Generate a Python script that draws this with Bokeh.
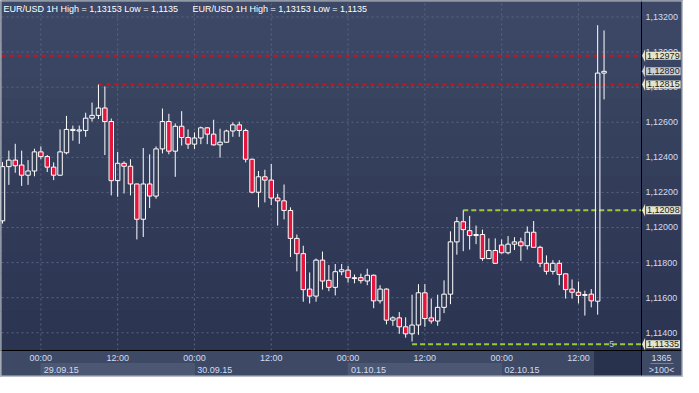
from bokeh.plotting import figure
from bokeh.models import (Range1d, FixedTicker, CustomJSTickFormatter, BoxAnnotation,
                          Label, PolyAnnotation, ColumnDataSource, Span)
from bokeh.embed import file_html
from bokeh.resources import INLINE

# ---------------- data ----------------
# hour offsets from 29.09.15 00:00 (EUR/USD, 1H candles)
hours = list(range(-6, 89))
opens = [1.12038, 1.12347, 1.12384, 1.12356, 1.12298, 1.12322, 1.12431, 1.12404, 1.12344, 1.12298,
         1.12426, 1.12553, 1.12550, 1.12553, 1.12623, 1.12639, 1.12681, 1.12604, 1.12267, 1.12366,
         1.12349, 1.12248, 1.12047, 1.12248, 1.12179, 1.12448, 1.12604, 1.12435, 1.12577, 1.12513,
         1.12475, 1.12510, 1.12568, 1.12532, 1.12471, 1.12486, 1.12550, 1.12585, 1.12553, 1.12389,
         1.12201, 1.12289, 1.12270, 1.12168, 1.12152, 1.12097, 1.11938, 1.11851, 1.11649, 1.11609,
         1.11814, 1.11699, 1.11659, 1.11748, 1.11757, 1.11709, 1.11714, 1.11695, 1.11728, 1.11582,
         1.11649, 1.11472, 1.11485, 1.11434, 1.11394, 1.11444, 1.11628, 1.11485, 1.11467, 1.11545,
         1.11620, 1.11918, 1.12033, 1.11982, 1.11954, 1.11960, 1.11823, 1.11869, 1.11900, 1.11856,
         1.11905, 1.11918, 1.11896, 1.11973, 1.11887, 1.11796, 1.11750, 1.11796, 1.11736, 1.11649,
         1.11631, 1.11613, 1.11620, 1.11580, 1.12880]
highs = [1.12373, 1.12438, 1.12477, 1.12438, 1.12384, 1.12449, 1.12462, 1.12413, 1.12371, 1.12559,
         1.12636, 1.12581, 1.12581, 1.12654, 1.12712, 1.12815, 1.12804, 1.12621, 1.12431, 1.12377,
         1.12389, 1.12250, 1.12453, 1.12417, 1.12462, 1.12678, 1.12648, 1.12593, 1.12663, 1.12559,
         1.12542, 1.12575, 1.12572, 1.12614, 1.12563, 1.12557, 1.12599, 1.12603, 1.12563, 1.12392,
         1.12322, 1.12329, 1.12362, 1.12192, 1.12245, 1.12115, 1.11960, 1.11896, 1.11744, 1.11823,
         1.11863, 1.11786, 1.11792, 1.11792, 1.11781, 1.11732, 1.11737, 1.11765, 1.11732, 1.11671,
         1.11653, 1.11494, 1.11518, 1.11488, 1.11617, 1.11677, 1.11677, 1.11595, 1.11617, 1.11699,
         1.11978, 1.12060, 1.12098, 1.12066, 1.12011, 1.11988, 1.11938, 1.11938, 1.11932, 1.11951,
         1.11945, 1.11942, 1.12006, 1.12037, 1.11896, 1.11841, 1.11814, 1.11814, 1.11738, 1.11704,
         1.11692, 1.11640, 1.11649, 1.13153, 1.13123]
lows = [1.12022, 1.12243, 1.12312, 1.12237, 1.12243, 1.12292, 1.12389, 1.12316, 1.12270, 1.12295,
        1.12417, 1.12495, 1.12477, 1.12517, 1.12604, 1.12618, 1.12413, 1.12183, 1.12175, 1.12194,
        1.12183, 1.11932, 1.11946, 1.12111, 1.12164, 1.12422, 1.12417, 1.12289, 1.12467, 1.12448,
        1.12448, 1.12475, 1.12475, 1.12467, 1.12398, 1.12484, 1.12517, 1.12517, 1.12371, 1.12194,
        1.12115, 1.12143, 1.12128, 1.12011, 1.12046, 1.11832, 1.11750, 1.11577, 1.11567, 1.11577,
        1.11646, 1.11637, 1.11613, 1.11728, 1.11686, 1.11682, 1.11681, 1.11671, 1.11540, 1.11567,
        1.11448, 1.11440, 1.11394, 1.11372, 1.11350, 1.11388, 1.11434, 1.11452, 1.11440, 1.11512,
        1.11563, 1.11845, 1.11865, 1.11874, 1.11905, 1.11810, 1.11820, 1.11793, 1.11851, 1.11847,
        1.11872, 1.11810, 1.11874, 1.11883, 1.11774, 1.11732, 1.11732, 1.11671, 1.11595, 1.11595,
        1.11567, 1.11498, 1.11545, 1.11503, 1.12730]
closes = [1.12347, 1.12384, 1.12352, 1.12298, 1.12322, 1.12431, 1.12404, 1.12344, 1.12298, 1.12431,
          1.12559, 1.12559, 1.12556, 1.12623, 1.12639, 1.12681, 1.12604, 1.12267, 1.12366, 1.12349,
          1.12248, 1.12047, 1.12248, 1.12179, 1.12448, 1.12604, 1.12435, 1.12577, 1.12513, 1.12475,
          1.12510, 1.12568, 1.12532, 1.12471, 1.12486, 1.12550, 1.12585, 1.12553, 1.12389, 1.12201,
          1.12289, 1.12270, 1.12168, 1.12152, 1.12097, 1.11938, 1.11851, 1.11646, 1.11609, 1.11814,
          1.11695, 1.11659, 1.11748, 1.11759, 1.11714, 1.11714, 1.11697, 1.11728, 1.11582, 1.11649,
          1.11472, 1.11485, 1.11434, 1.11394, 1.11444, 1.11628, 1.11481, 1.11467, 1.11545, 1.11620,
          1.11918, 1.12033, 1.11988, 1.11954, 1.11960, 1.11823, 1.11869, 1.11796, 1.11856, 1.11905,
          1.11918, 1.11896, 1.11973, 1.11887, 1.11796, 1.11750, 1.11796, 1.11732, 1.11646, 1.11631,
          1.11613, 1.11618, 1.11582, 1.12880, 1.12890]

tick_hours = [0, 12, 24, 36, 48, 60, 72, 84]
tick_labels = ["00:00", "12:00", "00:00", "12:00", "00:00", "12:00", "00:00", "12:00"]
day_starts = [0, 24, 48, 72]
date_labels = ["29.09.15", "30.09.15", "01.10.15", "02.10.15"]
date_banded = [True, False, True, False]
price_ticks = [1.114, 1.116, 1.118, 1.120, 1.122, 1.124, 1.126, 1.128, 1.130, 1.132]

level_values = [1.12979, 1.12815, 1.12098, 1.11335]
level_start_hours = [-6.15, 9, 66, 58]
level_kinds = ["red", "red", "green", "green"]
last_price = 1.12890
level_count_label = "5"

header = "EUR/USD 1H High = 1,13153 Low = 1,1135"
bars_total = "1365"
bars_shown = ">100<"

# ---------------- layout (canvas = frame) ----------------
W, H = 683, 377
PX0, PX1 = -6.15, 93.85          # visible hours in the price area (100 bars)
PY0, PY1 = 1.11299, 1.13288      # visible prices in the price area
plot_w, plot_h = 640, 349         # px of the price area
left_b, right_panel, right_b = 1, 40, 2
top_b, bottom_bar, bottom_b = 1, 25, 2
kx = (PX1 - PX0) / plot_w
ky = (PY1 - PY0) / plot_h
XR = Range1d(PX0 - left_b * kx, PX1 + (right_panel + right_b) * kx)
YR = Range1d(PY0 - (bottom_bar + bottom_b) * ky, PY1 + top_b * ky)
sep_x_px = left_b + plot_w               # screen x of price-area right edge
sep_y_px = bottom_b + bottom_bar          # screen y (from bottom) of price-area bottom

FONT = "Liberation Sans"
FS = "9px"
TXT = "#d2dcf2"

p = figure(width=W, height=H, x_range=XR, y_range=YR, output_backend="svg",
           toolbar_location=None, y_axis_location="right",
           min_border=0, min_border_left=0, min_border_right=0,
           min_border_top=0, min_border_bottom=0)
p.background_fill_color = "#3e4a65"
p.border_fill_color = "#3e4a65"
p.outline_line_color = None
p.xgrid.visible = False
p.ygrid.visible = False

# vertical gradient in price area + price panel
top_rgb = (61, 73, 102)
bot_rgb = (42, 51, 80)
nb = 18
for i in range(nb):
    t = (i + 0.5) / nb
    c = tuple(int(round(a + (b - a) * t)) for a, b in zip(top_rgb, bot_rgb))
    yt = PY1 + top_b * ky if i == 0 else PY1 - (PY1 - PY0) * i / nb + 0.00002
    yb = PY1 - (PY1 - PY0) * (i + 1) / nb - 0.00002
    if i == nb - 1:
        yb = PY0
    p.add_layout(BoxAnnotation(top=yt, bottom=yb, fill_color="#%02x%02x%02x" % c,
                               fill_alpha=1, line_color=None, level="image"))

# bottom bar: date bands and dark tail region
for d, banded in zip(day_starts, date_banded):
    if banded:
        p.add_layout(BoxAnnotation(left=d, right=d + 24, top=bottom_b + 12, bottom=bottom_b,
                                   top_units="screen", bottom_units="screen",
                                   fill_color="#4c5873", fill_alpha=1,
                                   line_color="#606c86", line_width=1, level="underlay"))
p.add_layout(BoxAnnotation(left=86.44, right=PX1, top=sep_y_px, bottom=bottom_b,
                           top_units="screen", bottom_units="screen",
                           fill_color="#29324d", fill_alpha=1, line_color=None, level="underlay"))

# grid lines (price area only)
p.segment(x0=tick_hours, y0=PY0, x1=tick_hours, y1=PY1, line_color="#5a6682",
          line_width=1, line_dash="2 3")
p.segment(x0=PX0, y0=price_ticks, x1=PX1, y1=price_ticks, line_color="#5a6682",
          line_width=1, line_dash="2 3")

# axes drawn at fixed locations inside the canvas
p.xaxis.ticker = FixedTicker(ticks=tick_hours)
p.xaxis.major_label_overrides = {h: lab for h, lab in zip(tick_hours, tick_labels)}
p.xaxis.fixed_location = PY0
p.yaxis.ticker = FixedTicker(ticks=price_ticks)
p.yaxis.formatter = CustomJSTickFormatter(code="return tick.toFixed(5).replace('.', ',');")
p.yaxis.fixed_location = PX1
for ax in (p.xaxis, p.yaxis):
    ax.axis_line_color = None
    ax.major_tick_line_color = None
    ax.minor_tick_line_color = None
    ax.major_tick_out = 0
    ax.major_tick_in = 0
    ax.minor_tick_out = 0
    ax.minor_tick_in = 0
    ax.major_label_text_color = TXT
    ax.major_label_text_font = FONT
    ax.major_label_text_font_size = FS
p.xaxis.major_label_standoff = 2
p.yaxis.major_label_standoff = 4

# date labels (second row of the time bar)
for d, lab in zip(day_starts, date_labels):
    p.add_layout(Label(x=d + 0.45, y=bottom_b + 6, y_units="screen", text=lab, text_color=TXT,
                       text_font=FONT, text_font_size=FS, text_baseline="middle"))

# horizontal levels
red_i = [i for i, k in enumerate(level_kinds) if k == "red"]
grn_i = [i for i, k in enumerate(level_kinds) if k == "green"]
p.segment(x0=[level_start_hours[i] for i in red_i], y0=[level_values[i] for i in red_i],
          x1=PX1, y1=[level_values[i] for i in red_i], line_color="#d0121c", line_width=2,
          line_dash="4 4")
p.segment(x0=[level_start_hours[i] for i in grn_i], y0=[level_values[i] for i in grn_i],
          x1=PX1, y1=[level_values[i] for i in grn_i], line_color="#9ec83a", line_width=2,
          line_dash="5 3")
p.add_layout(Label(x=89.2, y=level_values[3], text=level_count_label, text_color="#a9bddd",
                   text_font=FONT, text_font_size=FS, text_align="center",
                   text_baseline="middle"))

# candles
up = [c >= o for o, c in zip(opens, closes)]
src = ColumnDataSource(dict(
    x=hours,
    top=[max(o, c) for o, c in zip(opens, closes)],
    bot=[min(o, c) for o, c in zip(opens, closes)],
    high=highs, low=lows,
    fill=["#000000" if u else "#e3173d" for u in up],
    alpha=[0.0 if u else 1.0 for u in up],
))
p.segment(x0="x", y0="high", x1="x", y1="top", source=src, line_color="white", line_width=1)
p.segment(x0="x", y0="bot", x1="x", y1="low", source=src, line_color="white", line_width=1)
p.vbar(x="x", top="top", bottom="bot", width=0.7, source=src, fill_color="fill",
       fill_alpha="alpha", line_color="white", line_width=1)

# separators
p.add_layout(Span(location=PX1, dimension="height", line_color="black", line_width=1))
p.add_layout(Span(location=PY0, dimension="width", line_color="black", line_width=1))

# price callouts on the right
callouts = [(v, "#e6e4cc") for v in level_values] + [(last_price, "#c9cdd6")]
for v, bg in callouts:
    dy = 6.5 * ky
    p.add_layout(PolyAnnotation(xs=[PX1 + 0.5 * kx, PX1 + 3.6 * kx, PX1 + 3.6 * kx],
                                ys=[v, v + dy, v - dy],
                                fill_color=bg, fill_alpha=1, line_color=None))
    p.add_layout(Label(x=PX1 + 4.6 * kx, y=v, text=("%.5f" % v).replace(".", ","),
                       text_color="#1b1b1b", text_font=FONT, text_font_size=FS,
                       text_baseline="middle", background_fill_color=bg,
                       background_fill_alpha=1, padding=1))

# corner counters
p.add_layout(Label(x=sep_x_px + 20, y=sep_y_px - 7, x_units="screen", y_units="screen",
                   text=bars_total, text_color=TXT, text_font=FONT, text_font_size=FS,
                   text_align="center", text_baseline="middle"))
p.add_layout(BoxAnnotation(left=sep_x_px + 9, right=sep_x_px + 32, top=sep_y_px - 13,
                           bottom=sep_y_px - 13, left_units="screen", right_units="screen",
                           top_units="screen", bottom_units="screen", fill_alpha=0,
                           line_color="#aab6cc", line_width=1))
p.add_layout(Label(x=sep_x_px + 20, y=sep_y_px - 19, x_units="screen", y_units="screen",
                   text=bars_shown, text_color=TXT, text_font=FONT, text_font_size=FS,
                   text_align="center", text_baseline="middle"))

# header
for xs in (left_b + 2, left_b + 191):
    p.add_layout(Label(x=xs, y=H - top_b - 2, x_units="screen", y_units="screen", text=header,
                       text_color="white", text_font=FONT, text_font_size=FS,
                       text_baseline="top"))

# outer light frame
for kw in (dict(left=0, right=left_b), dict(left=W - right_b, right=W)):
    p.add_layout(BoxAnnotation(top=H, bottom=0, left_units="screen", right_units="screen",
                               top_units="screen", bottom_units="screen",
                               fill_color="#b9bec8", fill_alpha=1, line_color=None, **kw))
for kw in (dict(top=H, bottom=H - top_b), dict(top=bottom_b, bottom=0)):
    p.add_layout(BoxAnnotation(left=0, right=W, left_units="screen", right_units="screen",
                               top_units="screen", bottom_units="screen",
                               fill_color="#b9bec8", fill_alpha=1, line_color=None, **kw))

open("out.html", "w").write(file_html(p, INLINE))
